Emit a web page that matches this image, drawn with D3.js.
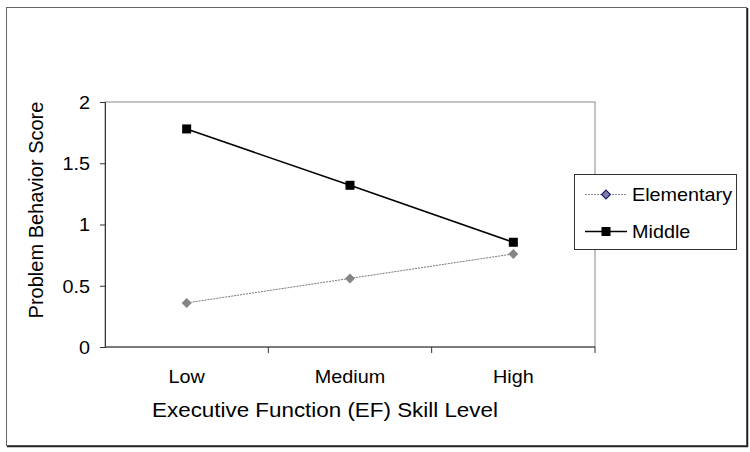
<!DOCTYPE html>
<html>
<head>
<meta charset="utf-8">
<script src="https://d3js.org/d3.v7.min.js"></script>
<style>
  body { margin: 0; background: #fff; }
  text { font-family: "Liberation Sans", Arial, sans-serif; fill: #000; }
</style>
</head>
<body>
<svg></svg>
<script>
// values
var levels = ["Low", "Medium", "High"];
var elementary = [0.36, 0.56, 0.76];
var middle = [1.78, 1.32, 0.855];
var yTicks = [0, 0.5, 1, 1.5, 2];
var seriesNames = ["Elementary", "Middle"];

var width = 750, height = 452;
var plot = {left: 105, right: 595, top: 102, bottom: 347};
var sx = 1.1; // source text looks a bit wide

var svg = d3.select("svg").attr("width", width).attr("height", height);

// outer frame with a little shadow on right/bottom
svg.append("rect")
  .attr("x", 6.5).attr("y", 7.5).attr("width", 740).attr("height", 438)
  .attr("fill", "#fff").attr("stroke", "#666");
svg.append("path")
  .attr("d", "M747.5,8 V446.5 H7")
  .attr("fill", "none").attr("stroke", "#222").attr("stroke-width", 1.5);

var x = d3.scaleBand().domain(levels).range([plot.left, plot.right]);
var y = d3.scaleLinear().domain([0, 2]).range([plot.bottom, plot.top]);

// plot area border
svg.append("rect")
  .attr("x", plot.left).attr("y", plot.top)
  .attr("width", plot.right - plot.left).attr("height", plot.bottom - plot.top)
  .attr("fill", "none").attr("stroke", "#8a8a8a");

// y axis
var yAxis = svg.append("g")
  .attr("transform", "translate(" + plot.left + ",0)")
  .call(d3.axisLeft(y).tickValues(yTicks).tickSize(5).tickFormat(d3.format("")));
yAxis.select(".domain").attr("stroke", "#333");
yAxis.selectAll(".tick line").attr("stroke", "#333");
yAxis.selectAll(".tick text").remove();
yAxis.selectAll(".tick").append("text")
  .attr("transform", "translate(-15,0) scale(" + sx + ",1)")
  .attr("dy", "0.35em")
  .attr("text-anchor", "end")
  .style("font-size", "18px")
  .text(function(d) { return d; });

// x axis, ticks on band edges
var xAxis = svg.append("g")
  .attr("transform", "translate(0," + plot.bottom + ")");
xAxis.append("line")
  .attr("x1", plot.left).attr("x2", plot.right)
  .attr("stroke", "#333");
var edges = levels.map(function(d) { return x(d) + x.bandwidth(); });
xAxis.selectAll(".edge").data(edges).enter().append("line")
  .attr("class", "edge")
  .attr("x1", function(d) { return d; }).attr("x2", function(d) { return d; })
  .attr("y1", 0).attr("y2", 6).attr("stroke", "#333");
xAxis.selectAll(".lab").data(levels).enter().append("text")
  .attr("class", "lab")
  .attr("transform", function(d) {
    return "translate(" + (x(d) + x.bandwidth() / 2) + ",36) scale(" + sx + ",1)";
  })
  .attr("text-anchor", "middle")
  .style("font-size", "18px")
  .text(function(d) { return d; });

// axis titles
svg.append("text")
  .attr("transform", "translate(325,417) scale(1.12,1)")
  .attr("text-anchor", "middle")
  .style("font-size", "20px")
  .text("Executive Function (EF) Skill Level");
svg.append("text")
  .attr("transform", "translate(43,210) rotate(-90)")
  .attr("text-anchor", "middle")
  .style("font-size", "20px")
  .text("Problem Behavior Score");

var cx = function(d, i) { return x(levels[i]) + x.bandwidth() / 2; };
var line = d3.line().x(cx).y(function(d) { return y(d); });

// elementary: dotted grey with diamonds
svg.append("path").datum(elementary)
  .attr("d", line).attr("fill", "none")
  .attr("stroke", "#777").attr("stroke-width", 1).attr("stroke-dasharray", "2,1");
var diamond = d3.symbol().type(d3.symbolDiamond2).size(64);
svg.selectAll(".elem").data(elementary).enter().append("path")
  .attr("class", "elem")
  .attr("d", diamond)
  .attr("transform", function(d, i) { return "translate(" + cx(d, i) + "," + y(d) + ")"; })
  .attr("fill", "#858585");

// middle: solid black with squares
svg.append("path").datum(middle)
  .attr("d", line).attr("fill", "none")
  .attr("stroke", "#000").attr("stroke-width", 1.5);
svg.selectAll(".mid").data(middle).enter().append("rect")
  .attr("class", "mid")
  .attr("x", function(d, i) { return cx(d, i) - 4.5; })
  .attr("y", function(d) { return y(d) - 4.5; })
  .attr("width", 9).attr("height", 9)
  .attr("fill", "#000");

// legend
var legend = svg.append("g");
legend.append("rect")
  .attr("x", 574.5).attr("y", 174.5).attr("width", 162).attr("height", 75)
  .attr("fill", "#fff").attr("stroke", "#333");
var rowY = [194.5, 231.5];
var rows = legend.selectAll(".row").data(seriesNames).enter().append("g")
  .attr("class", "row")
  .attr("transform", function(d, i) { return "translate(0," + rowY[i] + ")"; });
rows.append("line")
  .attr("x1", 585).attr("x2", 627)
  .attr("stroke", function(d, i) { return i == 0 ? "#8888aa" : "#000"; })
  .attr("stroke-width", function(d, i) { return i == 0 ? 1 : 1.5; })
  .attr("stroke-dasharray", function(d, i) { return i == 0 ? "2,1" : null; });
rows.filter(function(d, i) { return i == 0; }).append("path")
  .attr("d", d3.symbol().type(d3.symbolDiamond2).size(50))
  .attr("transform", "translate(606,0)")
  .attr("fill", "#7f7fa8").attr("stroke", "#1c1c6a").attr("stroke-width", 1.2);
rows.filter(function(d, i) { return i == 1; }).append("rect")
  .attr("x", 601.5).attr("y", -4.5).attr("width", 9).attr("height", 9)
  .attr("fill", "#000");
rows.append("text")
  .attr("transform", "translate(632,6) scale(" + sx + ",1)")
  .style("font-size", "18px")
  .text(function(d) { return d; });
</script>
</body>
</html>
